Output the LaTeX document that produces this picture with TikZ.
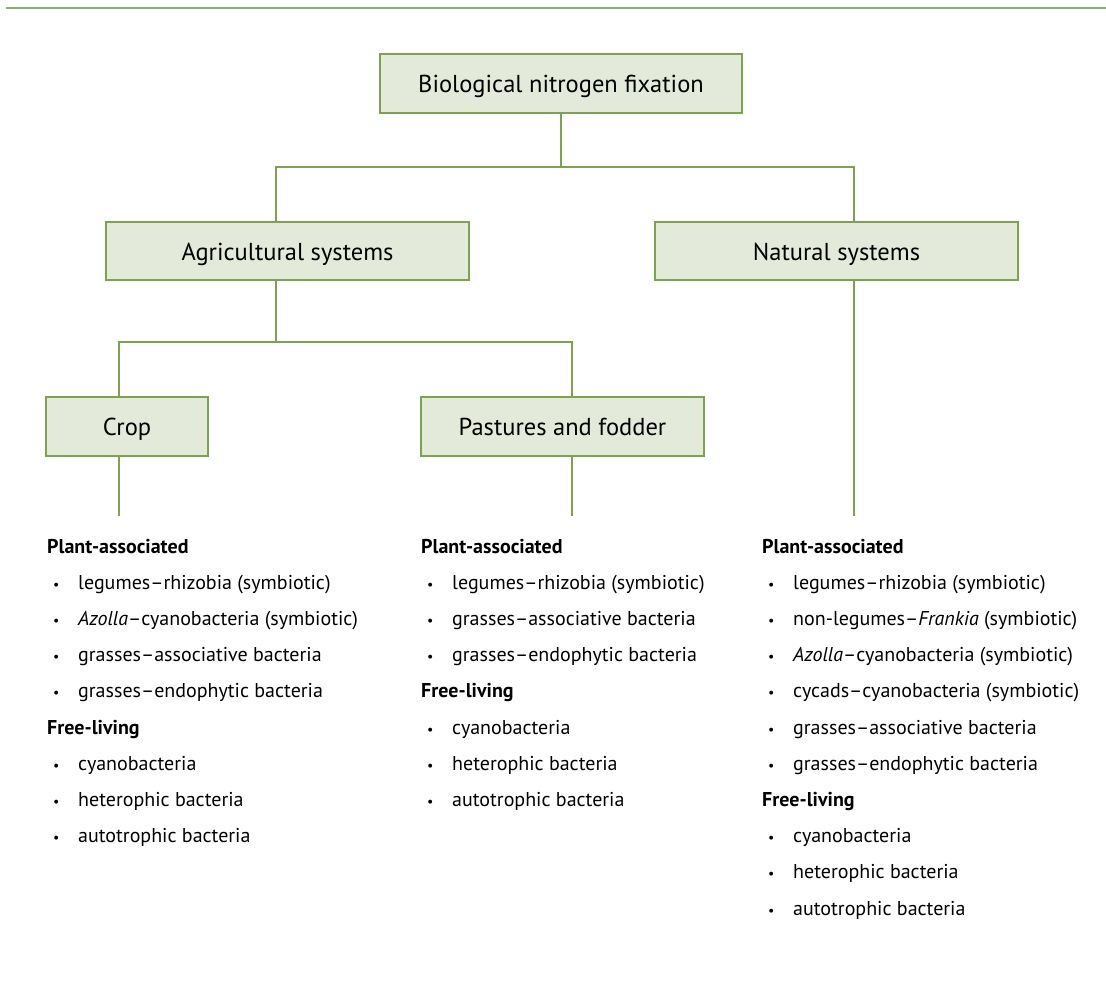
\documentclass[tikz,border=0pt]{standalone}
\usepackage{fontspec}
\setmainfont{PT Sans}
\definecolor{boxfill}{HTML}{E4EAD9}
\definecolor{boxline}{HTML}{7DA34F}
\definecolor{rule}{HTML}{8DAF6C}
\begin{document}
\begin{tikzpicture}[x=1pt,y=-1pt,
  box/.style={draw=boxline,fill=boxfill,line width=1.2pt,inner sep=0pt,text height=20pt,text depth=2pt,font=\fontsize{24.5}{28}\selectfont},
  conn/.style={draw=boxline,line width=1.3pt},
  head/.style={anchor=base west,inner sep=0pt,font=\fontsize{20}{24}\selectfont\bfseries},
  item/.style={anchor=base west,inner sep=0pt,font=\fontsize{20}{24}\selectfont},
  bul/.style={anchor=base west,inner sep=0pt,font=\fontsize{14}{16}\selectfont}]
\useasboundingbox (0,0) rectangle (1106,986);
\draw[rule,line width=1.5pt] (6,8) -- (1106,8);

\node[box,minimum width=362pt,minimum height=59pt] (bnf) at (561,83.5) {Biological nitrogen fixation};
\node[box,minimum width=363pt,minimum height=58pt] (agri) at (287.5,251) {Agricultural systems};
\node[box,minimum width=363pt,minimum height=58pt] (nat) at (836.5,251) {Natural systems};
\node[box,minimum width=162pt,minimum height=59pt] (crop) at (127,426.5) {Crop};
\node[box,minimum width=283pt,minimum height=59pt] (past) at (562.5,426.5) {Pastures and fodder};

\coordinate (j1) at (561,167);
\coordinate (j2) at (276,342);
\coordinate (cropend) at (119,516);
\coordinate (pastend) at (572,516);
\coordinate (natend) at (854,516);

\draw[conn] (bnf.south) -- (j1);
\draw[conn] (j1) -| (agri.north -| j2);
\draw[conn] (j1) -| (nat.north -| natend);
\draw[conn] (agri.south -| j2) -- (j2);
\draw[conn] (j2) -| (crop.north -| cropend);
\draw[conn] (j2) -| (past.north -| pastend);
\draw[conn] (crop.south -| cropend) -- (cropend);
\draw[conn] (past.south -| pastend) -- (pastend);
\draw[conn] (nat.south -| natend) -- (natend);

% left column
\node[head] (l0) at (47,553) {Plant-associated};
\node[bul] (lb1) at (53,589) {•}; \node[item] (l1) at (78,589) {legumes–rhizobia (symbiotic)};
\node[bul] (lb2) at (53,625) {•}; \node[item] (l2) at (78,625) {\textit{Azolla}–cyanobacteria (symbiotic)};
\node[bul] (lb3) at (53,661) {•}; \node[item] (l3) at (78,661) {grasses–associative bacteria};
\node[bul] (lb4) at (53,697) {•}; \node[item] (l4) at (78,697) {grasses–endophytic bacteria};
\node[head] (l5) at (47,734) {Free-living};
\node[bul] (lb6) at (53,770) {•}; \node[item] (l6) at (78,770) {cyanobacteria};
\node[bul] (lb7) at (53,806) {•}; \node[item] (l7) at (78,806) {heterophic bacteria};
\node[bul] (lb8) at (53,842) {•}; \node[item] (l8) at (78,842) {autotrophic bacteria};

% middle column
\node[head] (m0) at (421,553) {Plant-associated};
\node[bul] (mb1) at (427,589) {•}; \node[item] (m1) at (452,589) {legumes–rhizobia (symbiotic)};
\node[bul] (mb2) at (427,625) {•}; \node[item] (m2) at (452,625) {grasses–associative bacteria};
\node[bul] (mb3) at (427,661) {•}; \node[item] (m3) at (452,661) {grasses–endophytic bacteria};
\node[head] (m4) at (421,697) {Free-living};
\node[bul] (mb5) at (427,734) {•}; \node[item] (m5) at (452,734) {cyanobacteria};
\node[bul] (mb6) at (427,770) {•}; \node[item] (m6) at (452,770) {heterophic bacteria};
\node[bul] (mb7) at (427,806) {•}; \node[item] (m7) at (452,806) {autotrophic bacteria};

% right column
\node[head] (r0) at (762,553) {Plant-associated};
\node[bul] (rb1) at (768,589) {•}; \node[item] (r1) at (793,589) {legumes–rhizobia (symbiotic)};
\node[bul] (rb2) at (768,625) {•}; \node[item] (r2) at (793,625) {non-legumes–\textit{Frankia} (symbiotic)};
\node[bul] (rb3) at (768,661) {•}; \node[item] (r3) at (793,661) {\textit{Azolla}–cyanobacteria (symbiotic)};
\node[bul] (rb4) at (768,697) {•}; \node[item] (r4) at (793,697) {cycads–cyanobacteria (symbiotic)};
\node[bul] (rb5) at (768,734) {•}; \node[item] (r5) at (793,734) {grasses–associative bacteria};
\node[bul] (rb6) at (768,770) {•}; \node[item] (r6) at (793,770) {grasses–endophytic bacteria};
\node[head] (r7) at (762,806) {Free-living};
\node[bul] (rb8) at (768,842) {•}; \node[item] (r8) at (793,842) {cyanobacteria};
\node[bul] (rb9) at (768,878) {•}; \node[item] (r9) at (793,878) {heterophic bacteria};
\node[bul] (rb10) at (768,915) {•}; \node[item] (r10) at (793,915) {autotrophic bacteria};
\end{tikzpicture}
\end{document}
